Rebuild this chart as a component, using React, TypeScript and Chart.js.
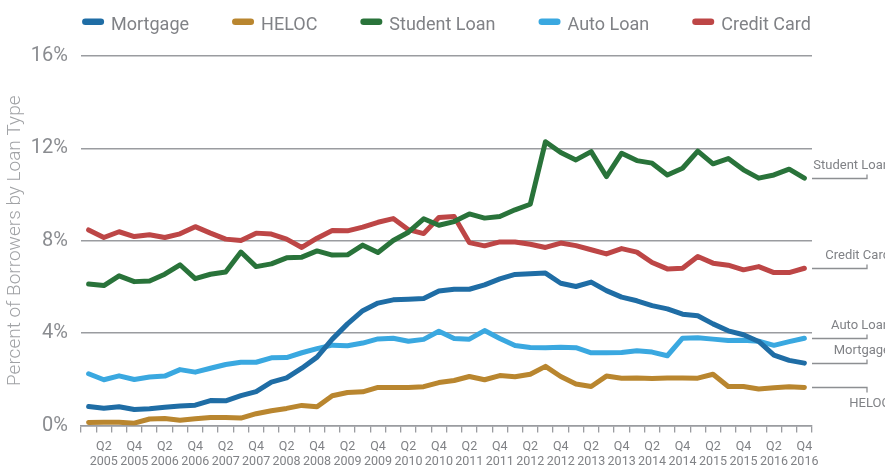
import React, { useEffect, useRef } from 'react';
import { Chart, registerables } from 'chart.js';

Chart.register(...registerables);

const years = ['2005', '2006', '2007', '2008', '2009', '2010', '2011', '2012', '2013', '2014', '2015', '2016'];
const quarters = ['Q1', 'Q2', 'Q3', 'Q4'];
const categories: string[][] = years.flatMap((y) => quarters.map((q) => [q, y]));

const seriesNames = ['Mortgage', 'HELOC', 'Student Loan', 'Auto Loan', 'Credit Card'];
const seriesColors = ['#1f6da5', '#b9862f', '#29733a', '#3aa8e0', '#bd4646'];

const mortgage = [0.82, 0.75, 0.81, 0.69, 0.73, 0.79, 0.84, 0.88, 1.08, 1.07,
  1.29, 1.47, 1.88, 2.06, 2.48, 2.96, 3.74, 4.40, 4.97, 5.30,
  5.44, 5.47, 5.50, 5.82, 5.90, 5.90, 6.09, 6.35, 6.54, 6.57,
  6.60, 6.16, 6.02, 6.21, 5.84, 5.56, 5.40, 5.19, 5.05, 4.82,
  4.75, 4.40, 4.10, 3.93, 3.64, 3.05, 2.82, 2.70];
const heloc = [0.13, 0.14, 0.14, 0.10, 0.28, 0.30, 0.23, 0.29, 0.35, 0.35,
  0.32, 0.51, 0.64, 0.74, 0.87, 0.81, 1.29, 1.43, 1.46, 1.65,
  1.65, 1.65, 1.68, 1.86, 1.95, 2.12, 1.98, 2.16, 2.11, 2.22,
  2.56, 2.12, 1.80, 1.69, 2.14, 2.05, 2.06, 2.03, 2.06, 2.06,
  2.05, 2.22, 1.69, 1.69, 1.58, 1.63, 1.68, 1.65];
const studentLoan = [6.13, 6.06, 6.48, 6.23, 6.26, 6.55, 6.96, 6.36, 6.55, 6.65,
  7.51, 6.88, 7.00, 7.26, 7.29, 7.56, 7.38, 7.39, 7.81, 7.49,
  8.01, 8.37, 8.95, 8.67, 8.83, 9.16, 8.98, 9.05, 9.34, 9.58,
  12.29, 11.82, 11.50, 11.86, 10.78, 11.79, 11.47, 11.36, 10.85, 11.14,
  11.88, 11.33, 11.56, 11.07, 10.71, 10.85, 11.10, 10.71];
const autoLoan = [2.24, 1.98, 2.15, 1.99, 2.10, 2.14, 2.42, 2.31, 2.48, 2.64,
  2.74, 2.74, 2.93, 2.94, 3.15, 3.33, 3.48, 3.45, 3.57, 3.75,
  3.78, 3.65, 3.73, 4.08, 3.77, 3.74, 4.11, 3.77, 3.46, 3.38,
  3.37, 3.39, 3.37, 3.15, 3.15, 3.16, 3.24, 3.18, 3.02, 3.78,
  3.80, 3.74, 3.68, 3.69, 3.65, 3.47, 3.63, 3.78];
const creditCard = [8.47, 8.14, 8.39, 8.18, 8.26, 8.14, 8.30, 8.61, 8.33, 8.07,
  8.01, 8.33, 8.29, 8.07, 7.71, 8.11, 8.44, 8.43, 8.59, 8.80,
  8.96, 8.48, 8.31, 9.01, 9.05, 7.92, 7.78, 7.95, 7.95, 7.85,
  7.71, 7.90, 7.79, 7.61, 7.43, 7.66, 7.51, 7.06, 6.78, 6.81,
  7.32, 7.03, 6.94, 6.74, 6.88, 6.62, 6.62, 6.81];

const seriesValues = [mortgage, heloc, studentLoan, autoLoan, creditCard];
const labelBelow = [false, true, false, false, false];

const yTicks = [0, 4, 8, 12, 16];
const yTitle = 'Percent of Borrowers by Loan Type';

const TEXT = '#808286';
const LINE = '#9a9ca0';
const FONT = 'Roboto, sans-serif';

const overlayPlugin = {
  id: 'overlay',
  afterDatasetsDraw(chart: any) {
    const { ctx, chartArea } = chart;
    ctx.save();
    // Legend
    ctx.font = `18px ${FONT}`;
    const box = 22;
    const gap = 7;
    const spacing = 43;
    const items = chart.data.datasets.map((ds: any) => ({
      text: ds.label as string,
      color: ds.borderColor as string,
      w: ctx.measureText(ds.label).width,
    }));
    const total = items.reduce((s: number, it: any) => s + box + gap + it.w, 0) + spacing * (items.length - 1);
    let x = (chartArea.left + chartArea.right) / 2 - total / 2;
    items.forEach((it: any) => {
      ctx.fillStyle = it.color;
      ctx.beginPath();
      ctx.roundRect(x, 18.5, box, 6.5, 3.25);
      ctx.fill();
      ctx.fillStyle = TEXT;
      ctx.textAlign = 'left';
      ctx.textBaseline = 'alphabetic';
      ctx.fillText(it.text, x + box + gap, 29.5);
      x += box + gap + it.w + spacing;
    });

    // Right-side leader labels
    ctx.font = `13px ${FONT}`;
    ctx.strokeStyle = '#8d8f92';
    ctx.lineWidth = 1.3;
    chart.data.datasets.forEach((ds: any, i: number) => {
      const meta = chart.getDatasetMeta(i);
      const pt = meta.data[meta.data.length - 1];
      const y = Math.round(pt.y) + 0.5;
      const x0 = chartArea.right;
      const x1 = chartArea.right + 55;
      const below = labelBelow[i];
      ctx.beginPath();
      ctx.moveTo(x0, y);
      ctx.lineTo(x1, y);
      ctx.lineTo(x1, below ? y + 5 : y - 4);
      ctx.stroke();
      ctx.fillStyle = TEXT;
      ctx.textAlign = 'right';
      ctx.textBaseline = 'alphabetic';
      ctx.fillText(ds.label, 890, below ? y + 19 : y - 10);
    });
    ctx.restore();
  },
};

export default function App() {
  const ref = useRef<HTMLCanvasElement | null>(null);

  useEffect(() => {
    if (!ref.current) return;
    const chart = new Chart(ref.current, {
      type: 'line',
      data: {
        labels: categories,
        datasets: seriesNames.map((name, i) => ({
          label: name,
          data: seriesValues[i],
          borderColor: seriesColors[i],
          backgroundColor: seriesColors[i],
          borderWidth: 5,
          borderCapStyle: 'round' as const,
          borderJoinStyle: 'round' as const,
          pointRadius: 0,
          tension: 0,
          fill: false,
        })),
      },
      options: {
        responsive: false,
        animation: false,
        layout: { padding: { top: 56, right: 73, left: 0, bottom: 0 } },
        plugins: {
          legend: { display: false },
          tooltip: { enabled: false },
        },
        scales: {
          x: {
            type: 'category',
            offset: true,
            grid: {
              offset: true,
              drawOnChartArea: false,
              drawTicks: true,
              tickLength: 7,
              color: LINE,
              lineWidth: 1.3,
            },
            border: { display: true, color: LINE, width: 1.5 },
            ticks: {
              autoSkip: false,
              maxRotation: 0,
              minRotation: 0,
              padding: 7,
              color: TEXT,
              font: { family: FONT, size: 12.5, lineHeight: 1.2 },
              callback: function (this: any, value: any, index: number) {
                return index % 2 === 1 ? this.getLabelForValue(value) : '';
              },
            },
            afterFit: (s: any) => {
              s.height = 49.5;
            },
          },
          y: {
            min: 0,
            max: 16,
            afterBuildTicks: (s: any) => {
              s.ticks = yTicks.map((v) => ({ value: v }));
            },
            grid: {
              drawTicks: false,
              color: LINE,
              lineWidth: 1.5,
            },
            border: { display: false },
            ticks: {
              padding: 13,
              color: '#8a8c90',
              font: { family: FONT, size: 20 },
              callback: (v: any) => `${v}%`,
            },
            title: {
              display: true,
              text: yTitle,
              color: '#a0a2a5',
              font: { family: FONT, size: 19, weight: '300' as any },
              padding: { top: 4, bottom: 0 },
            },
            afterFit: (s: any) => {
              s.width = 81;
            },
          },
        },
      },
      plugins: [overlayPlugin],
    });
    return () => chart.destroy();
  }, []);

  return (
    <div style={{ position: 'fixed', left: 0, top: 0, width: 885, height: 475, background: '#fff' }}>
      <canvas ref={ref} width={885} height={475} style={{ display: 'block' }} />
    </div>
  );
}
